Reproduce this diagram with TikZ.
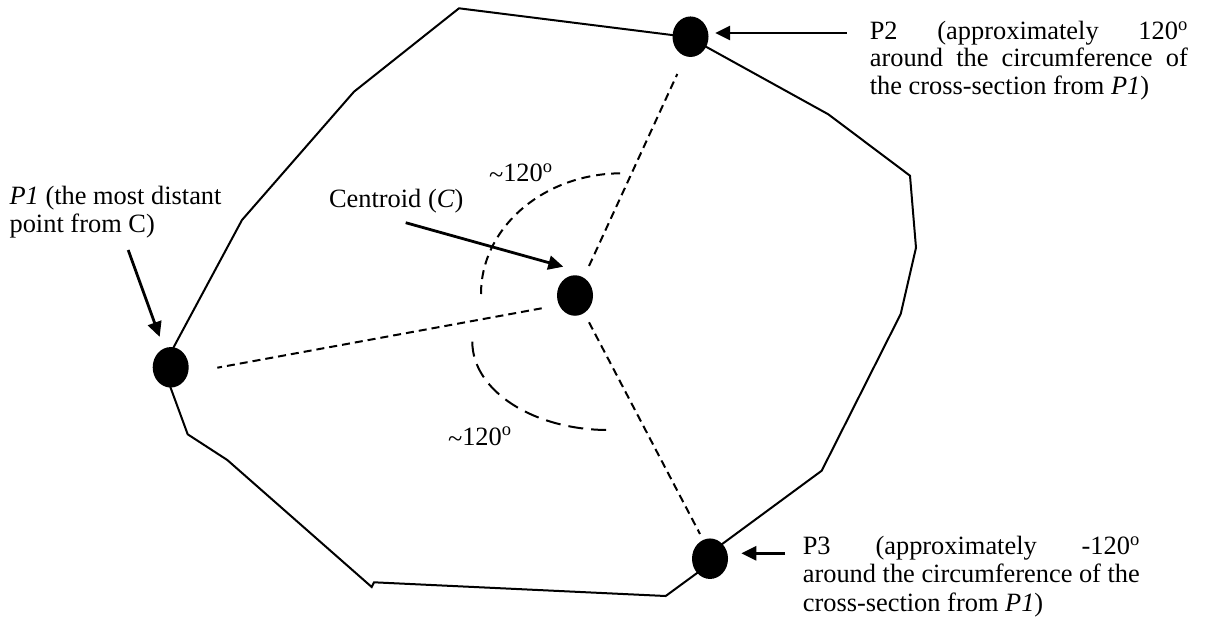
\documentclass[tikz,border=0pt]{standalone}
\usepackage{fontspec}
\setmainfont{Liberation Serif}
\usetikzlibrary{arrows.meta,calc,shapes.geometric}

\newcommand{\approxsign}{\raisebox{-0.08em}{\textasciitilde}}

\begin{document}
\begin{tikzpicture}[x=1pt,y=-1pt,
  outline/.style={line width=2pt, line join=miter},
  dot/.style={ellipse, fill=black, minimum width=36pt, minimum height=40.5pt, inner sep=0pt, outer sep=0pt},
  radial/.style={line width=2pt, dash pattern=on 8pt off 5pt},
  arcshort/.style={line width=2pt, dash pattern=on 9pt off 6pt},
  arclong/.style={line width=2pt, dash pattern=on 15pt off 8pt},
  pointer/.style={line width=2.8pt, -{Triangle[length=15pt,width=14pt]}},
  lbl/.style={anchor=base west, inner sep=0pt, outer sep=0pt, font=\fontsize{26.4pt}{28pt}\selectfont},
]
\fill[white] (0,0) rectangle (1207,619);
\useasboundingbox (0,0) rectangle (1207,619);

% cross-section outline
\draw[outline] (459,8.3) -- (688.6,37.1) -- (828.3,114.3) -- (910,175.7) -- (916,247.7)
  -- (900.7,314) -- (821.7,470.7) -- (712,551.5) -- (705,567.2) -- (665.7,596)
  -- (374,582.3) -- (371.7,587) -- (227.3,460) -- (187.7,434.3) -- (163,367)
  -- (242,220) -- (354,91.7) -- cycle;

% points on the outline and the centroid
\node[dot] (P1) at (170.7,367.3) {};
\node[dot] (P2) at (690.5,36.7) {};
\node[dot] (C)  at (575,295.5) {};
\node[dot] (P3) at (710,558.7) {};

% radial lines from the centroid
\draw[radial] ($(C)+(-33.3,12.8)$) -- ($(P1)+(46.6,0.4)$);
\draw[radial] ($(C)+(14,-29.5)$) -- ($(P2)+(-13.2,37.3)$);
\draw[radial] ($(C)+(14,26.8)$) -- ($(P3)+(-10,-24.7)$);

% angle arcs
\draw[arcshort] (481,294) arc[start angle=180, end angle=90, x radius=140.7pt, y radius=120.7pt];
\draw[arclong] (472.3,341.7) arc[start angle=180, end angle=270, x radius=136pt, y radius=88.3pt];

% labels
\node[lbl] (p1lab) at (9.6,204) {\vtop{\hbox{\textit{P1} (the most distant}\hbox{point from C)}}};
\node[lbl] (clab) at (329,207) {Centroid (\textit{C})};
\node[lbl] (ang1) at (489,181.5) {\approxsign120\textsuperscript{o}};
\node[lbl] (ang2) at (448,445) {\approxsign120\textsuperscript{o}};
\node[lbl, font=\fontsize{26.4pt}{27.6pt}\selectfont] (p2lab) at (869.8,39.3) {\vtop{%
  \hbox to 318pt{P2 (approximately 120\textsuperscript{o}}%
  \hbox to 318pt{around the circumference of}%
  \hbox{the cross-section from \textit{P1})}}};
\node[lbl, font=\fontsize{26.4pt}{28.6pt}\selectfont] (p3lab) at (802.8,554.3) {\vtop{%
  \hbox to 337pt{P3 (approximately -120\textsuperscript{o}}%
  \hbox to 337pt{around the circumference of the}%
  \hbox{cross-section from \textit{P1})}}};

% pointers
\coordinate (t1) at (128.2,250);
\draw[pointer, shorten >=12.4pt] (t1) -- (P1);
\coordinate (t0) at (405.7,222.7);
\coordinate (h0) at ($(C)+(-11.7,-28.8)$);
\draw[pointer] (t0) -- (h0);
\coordinate (t2) at (846.8,33);
\draw[pointer] (t2) -- ($(t2 -| P2.east)+(6.7,0)$);
\coordinate (t3) at (785,553.3);
\draw[pointer] (t3) -- ($(t3 -| P3.east)+(13.4,0)$);
\end{tikzpicture}
\end{document}
